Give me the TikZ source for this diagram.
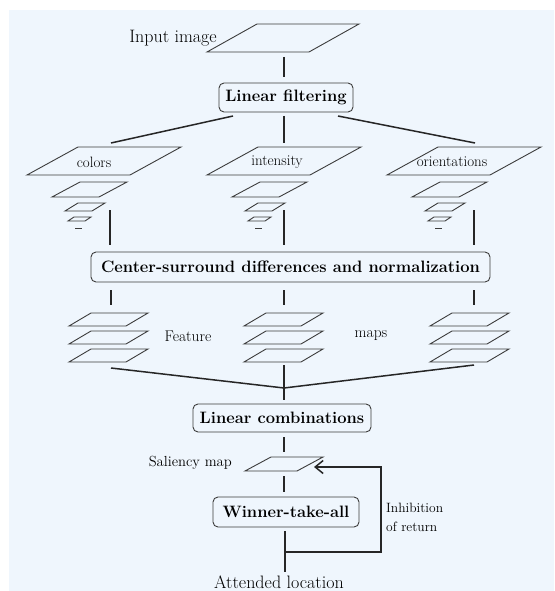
\documentclass[tikz,border=0pt]{standalone}
\usetikzlibrary{arrows.meta}
\definecolor{bgc}{HTML}{EFF6FD}
\definecolor{pln}{HTML}{3C3C3C}
\newcommand\plg[5]{\draw[plane] (#1,#2) -- ++(#3,0) -- ++(#4,-#5) -- ++(-#3,0) -- cycle;}
\begin{document}
\begin{tikzpicture}[x=1pt,y=-1pt,
  plane/.style={draw=pln,line width=0.9pt,line join=miter},
  conn/.style={draw=black!85,line width=1.5pt},
  stage/.style={draw=pln,line width=0.9pt,rounded corners=5pt,inner sep=0pt,font=\fontsize{16.5}{18}\selectfont\bfseries},
  lbl/.style={inner sep=0pt,font=\fontsize{15}{17}\selectfont},
  biglbl/.style={inner sep=0pt,font=\fontsize{18}{20}\selectfont}]
\useasboundingbox (0,0) rectangle (554,591);
\fill[bgc] (9,10) rectangle (554,591);
% input image
\plg{207}{52}{102}{50}{28}
\node[biglbl,anchor=base east] (inp) at (217,43) {Input image};
\coordinate (i1) at (284,57); \coordinate (i2) at (284,77);
\draw[conn] (i1) -- (i2);
% linear filtering
\node[stage,minimum width=134pt,minimum height=29pt] (lf) at (286,97.5) {Linear filtering};
\coordinate (lfl) at (233,116); \coordinate (lfm) at (284,116); \coordinate (lfr) at (338,116);
\coordinate (pc) at (111,143); \coordinate (pi) at (284,143); \coordinate (po) at (475,143);
\draw[conn] (lfl) -- (pc);
\draw[conn] (lfm) -- (pi);
\draw[conn] (lfr) -- (po);
% pyramids
\foreach \dx/\txt/\tx in {0/colors/94, 180/intensity/277, 360/orientations/452}{
  \begin{scope}[xshift=\dx]
  \plg{27}{175}{103}{51}{28}
  \plg{52}{197}{47}{28}{15}
  \plg{65}{211}{27}{13}{8}
  \plg{68}{221}{17}{6}{4}
  \draw[plane] (75,228) -- (82,228);
  \end{scope}
  \node[lbl] at (\tx,162) {\txt};
}
% lines to center-surround
\foreach \x/\n in {110/a,284/b,474/c}{
  \coordinate (t\n) at (\x,210); \coordinate (u\n) at (\x,245);
  \draw[conn] (t\n) -- (u\n);
}
\node[stage,minimum width=399pt,minimum height=30pt] (cs) at (290.5,267) {Center-surround differences and normalization};
% feature maps
\foreach \x/\n in {111/a,284/b,474/c}{
  \coordinate (v\n) at (\x,290); \coordinate (w\n) at (\x,305);
  \draw[conn] (v\n) -- (w\n);
}
\foreach \bx in {69,244,430}{
  \foreach \by in {326,344,362}{
    \plg{\bx}{\by}{57}{22}{13}
  }
}
\node[lbl,font=\fontsize{15.5}{17}\selectfont] (feat) at (188,336) {Feature};
\node[lbl,font=\fontsize{15.5}{17}\selectfont] (maps) at (371,336) {maps};
\coordinate (fa) at (111,368); \coordinate (fb) at (284,365); \coordinate (fc) at (474,365);
\coordinate (j) at (284,388); \coordinate (lct) at (284,400);
\draw[conn] (fa) -- (j) -- (fc);
\draw[conn] (fb) -- (lct);
% linear combinations
\node[stage,minimum width=178pt,minimum height=28pt] (lc) at (282,418) {Linear combinations};
\coordinate (s1) at (284,437); \coordinate (s2) at (284,452);
\draw[conn] (s1) -- (s2);
% saliency map
\plg{245}{471}{52}{26}{14}
\node[lbl,font=\fontsize{14.6}{16}\selectfont,anchor=east] (sal) at (232,463) {Saliency map};
\coordinate (s3) at (284,476); \coordinate (s4) at (284,492);
\draw[conn] (s3) -- (s4);
% winner take all
\node[stage,minimum width=146pt,minimum height=30pt] (wta) at (286,512) {Winner-take-all};
\coordinate (w1) at (285,531); \coordinate (w2) at (285,572);
\coordinate (fb1) at (285,552); \coordinate (fb2) at (381,552); \coordinate (fb3) at (381,467); \coordinate (tip) at (314,467);
\draw[conn] (w1) -- (w2);
\draw[conn,-{Straight Barb[length=8pt,width=13pt,line width=1.5pt]}] (fb1) -- (fb2) -- (fb3) -- (tip);
\node[lbl,font=\fontsize{13.5}{19}\selectfont,align=left,anchor=west] (inh) at (386,517) {Inhibition\\of return};
\node[biglbl,anchor=south,inner ysep=1pt] (att) at (279,590) {Attended location};
\end{tikzpicture}
\end{document}
